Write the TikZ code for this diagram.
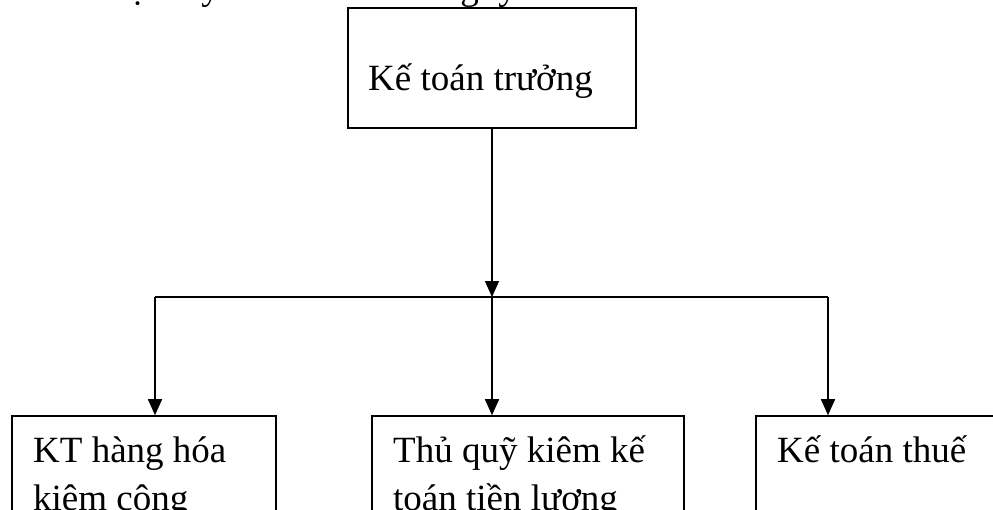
\documentclass[tikz,border=0pt]{standalone}
\usepackage{fontspec}
\setmainfont{Liberation Serif}
\usetikzlibrary{arrows.meta}
\tikzset{
  box/.style={draw=black, line width=1.6pt, rectangle, inner sep=0pt},
  lbl/.style={anchor=base west, inner sep=0pt, font=\fontsize{37}{48}\selectfont, align=left},
  conn/.style={draw=black, line width=1.6pt},
  arr/.style={conn, -{Triangle[length=16pt, width=14pt]}},
}
\begin{document}
\begin{tikzpicture}[x=1pt, y=-1pt]
\useasboundingbox (0,0) rectangle (993,509);
\clip (0,0) rectangle (993,509);
\fill[white] (0,0) rectangle (993,509);
% cut-off title line (only its lowest parts show, as in the reference)
\node[anchor=base east, inner sep=0pt, font=\fontsize{37}{48}\selectfont] (title) at (517,-1) {Sơ đồ bộ máy kế toán của công ty};
% boxes
\node[box, minimum width=288pt, minimum height=120pt] (top) at (492,68) {};
\node[box, minimum width=264pt, minimum height=150pt] (b1) at (144,491) {};
\node[box, minimum width=312pt, minimum height=150pt] (b2) at (528,491) {};
\node[box, minimum width=304pt, minimum height=150pt] (b3) at (908,491) {};
% labels (base anchor of a two-line label is its last line)
\node[lbl] (t0) at (368,90) {Kế toán trưởng};
\node[lbl] (t1) at (33,510) {KT hàng hóa\\kiêm công};
\node[lbl] (t2) at (393,510) {Thủ quỹ kiêm kế\\toán tiền lương};
\node[lbl] (t3) at (777,462) {Kế toán thuế};
% junctions
\coordinate (jm) at (492,297);
\coordinate (jl) at (155,297);
\coordinate (jr) at (828,297);
% connectors
\draw[arr] (top.south) -- (jm);
\draw[conn] (jl) -- (jr);
\draw[arr] (jl) -- (jl |- b1.north);
\draw[arr] (jm) -- (jm |- b2.north);
\draw[arr] (jr) -- (jr |- b3.north);
\end{tikzpicture}
\end{document}
